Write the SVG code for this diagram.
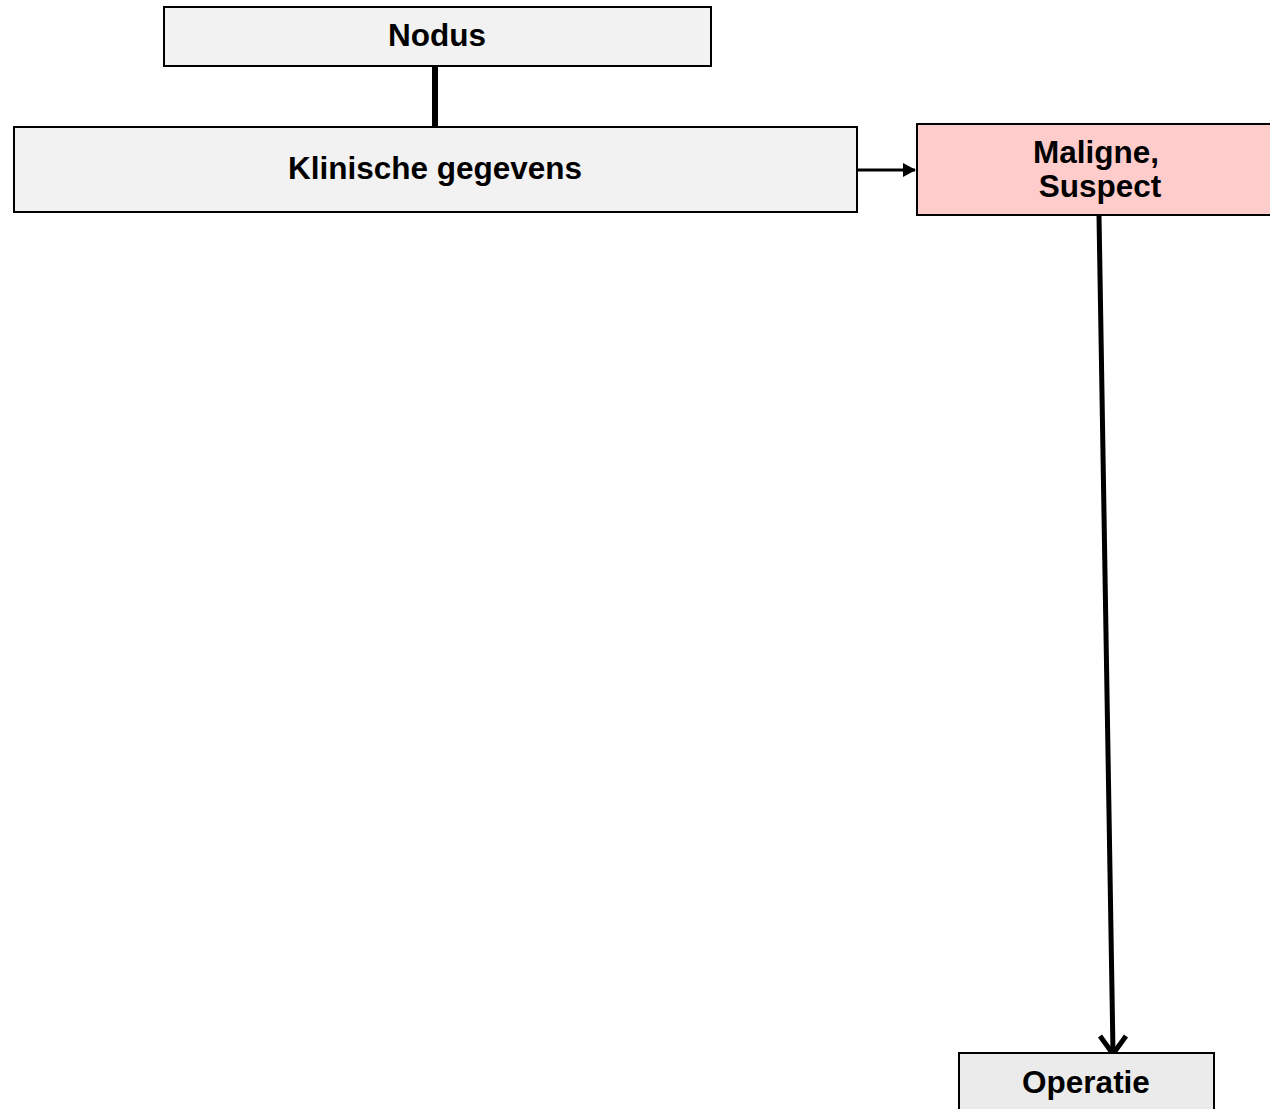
<svg xmlns="http://www.w3.org/2000/svg" width="1270" height="1109" viewBox="0 0 1270 1109">
<style>
.box{stroke:#000;stroke-width:2}
.lbl{font-family:"Liberation Sans",Arial,sans-serif;font-weight:bold;font-size:31.5px;fill:#000;text-anchor:middle}
</style>
<rect width="1270" height="1109" fill="#fff"/>
<g id="connectors">
<line x1="435" y1="66" x2="435" y2="127" stroke="#000" stroke-width="6"/>
<line x1="858" y1="170" x2="915" y2="170" stroke="#000" stroke-width="3"/>
<path d="M903,163 L916,170 L903,177 Z" fill="#000"/>
<line x1="1099" y1="215" x2="1113" y2="1052" stroke="#000" stroke-width="5"/>
<polyline points="1100,1036 1113,1054 1126,1036" fill="none" stroke="#000" stroke-width="5"/>
</g>
<g id="node-nodus">
<rect class="box" x="164" y="7" width="547" height="59" fill="#f2f2f2"/>
<text class="lbl" x="437" y="46">Nodus</text>
</g>
<g id="node-klinische">
<rect class="box" x="14" y="127" width="843" height="85" fill="#f2f2f2"/>
<text class="lbl" x="435" y="179">Klinische gegevens</text>
</g>
<g id="node-maligne">
<rect class="box" x="917" y="124" width="360" height="91" fill="#ffcccc"/>
<text class="lbl" x="1096" y="163">Maligne,</text>
<text class="lbl" x="1100" y="197">Suspect</text>
</g>
<g id="node-operatie">
<rect class="box" x="959" y="1053" width="255" height="70" fill="#ebebeb"/>
<text class="lbl" x="1086" y="1093">Operatie</text>
</g>
</svg>
